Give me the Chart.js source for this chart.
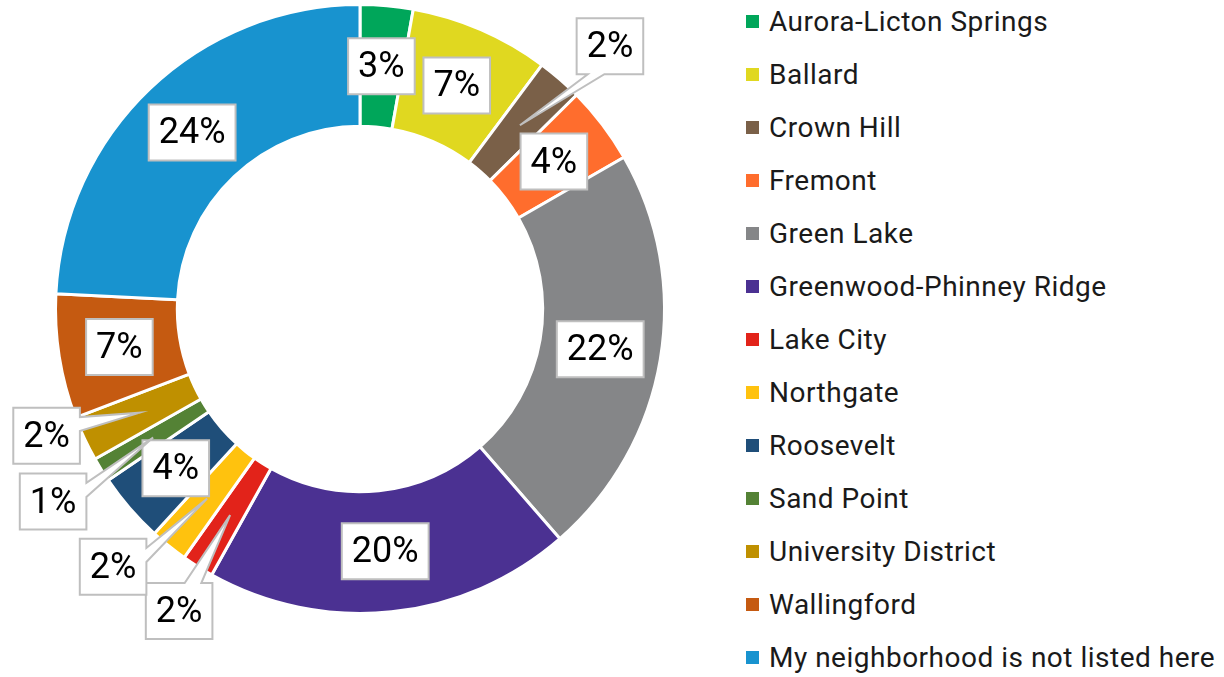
<!DOCTYPE html>
<html>
<head>
<meta charset="utf-8">
<script src="https://cdn.jsdelivr.net/npm/chart.js@4.4.0/dist/chart.umd.min.js"></script>
<style>
  html, body { margin: 0; padding: 0; background: #fff; }
  body { width: 1224px; height: 677px; position: relative; overflow: hidden; font-family: Roboto, sans-serif; }
  #wrap { position: absolute; left: 0; top: 0; width: 730px; height: 677px; }
  #legend { position: absolute; left: 746px; top: -5px; list-style: none; margin: 0; padding: 0; }
  #legend li { height: 53px; display: flex; align-items: center; font-size: 28px; letter-spacing: 0.5px; color: #1a1a1a; white-space: nowrap; }
  #legend .box { width: 13px; height: 13px; margin-right: 10px; flex: none; }
</style>
</head>
<body>
<div id="wrap"><canvas id="myChart" width="730" height="677"></canvas></div>
<ul id="legend"></ul>
<script>
// neighborhoods and share of responses (%)
const neighborhoods = [
  'Aurora-Licton Springs', 'Ballard', 'Crown Hill', 'Fremont', 'Green Lake',
  'Greenwood-Phinney Ridge', 'Lake City', 'Northgate', 'Roosevelt', 'Sand Point',
  'University District', 'Wallingford', 'My neighborhood is not listed here'
];
const shares = [2.8, 7.4, 2.4, 4.1, 21.9, 19.5, 1.7, 2.0, 3.7, 1.3, 2.4, 6.6, 24.2];
const colors = [
  '#00A65A', '#E0D820', '#7A6048', '#FF6D2D', '#858688', '#4B3192', '#E2231A',
  '#FFC20E', '#1F4E79', '#548235', '#BF9000', '#C55A11', '#1893CF'
];

// callout boxes moved away from small slices (px from slice centre)
const calloutShift = {
  2: { dx: 90, dy: -79 },
  6: { dx: -51, dy: 96 },
  7: { dx: -94, dy: 68 },
  9: { dx: -100, dy: 64 },
  10: { dx: -93, dy: 23 }
};

function calloutPath(ctx, l, t, w, h, tip) {
  const r = l + w, b = t + h, cx = l + w / 2, cy = t + h / 2;
  ctx.beginPath();
  ctx.moveTo(l, t);
  let dx = 0, dy = 0, vertical = false;
  if (tip) {
    dx = (tip.x - cx) / w;
    dy = (tip.y - cy) / h;
    vertical = Math.abs(dy) > Math.abs(dx);
  }
  if (tip && vertical && dy < 0) {
    const a = dx < 0 ? l + w / 6 : l + 7 * w / 12;
    ctx.lineTo(a, t); ctx.lineTo(tip.x, tip.y); ctx.lineTo(a + w / 4, t);
  }
  ctx.lineTo(r, t);
  if (tip && !vertical && dx > 0) {
    const a = dy < 0 ? t + h / 6 : t + 7 * h / 12;
    ctx.lineTo(r, a); ctx.lineTo(tip.x, tip.y); ctx.lineTo(r, a + h / 4);
  }
  ctx.lineTo(r, b);
  if (tip && vertical && dy > 0) {
    const a = dx < 0 ? l + 5 * w / 12 : l + 5 * w / 6;
    ctx.lineTo(a, b); ctx.lineTo(tip.x, tip.y); ctx.lineTo(a - w / 4, b);
  }
  ctx.lineTo(l, b);
  if (tip && !vertical && dx < 0) {
    const a = dy < 0 ? t + 5 * h / 12 : t + 5 * h / 6;
    ctx.lineTo(l, a); ctx.lineTo(tip.x, tip.y); ctx.lineTo(l, a - h / 4);
  }
  ctx.closePath();
}

const percentLabels = {
  id: 'percentLabels',
  afterDatasetsDraw(chart) {
    const ctx = chart.ctx;
    const data = chart.data.datasets[0].data;
    const total = data.reduce((s, v) => s + v, 0);
    const meta = chart.getDatasetMeta(0);
    ctx.save();
    ctx.font = '36px Roboto';
    ctx.textAlign = 'center';
    ctx.textBaseline = 'middle';
    meta.data.forEach((arc, i) => {
      const text = Math.round(data[i] / total * 100) + '%';
      const p = arc.tooltipPosition();
      const shift = calloutShift[i];
      const cx = p.x + (shift ? shift.dx : 0);
      const cy = p.y + (shift ? shift.dy : 0);
      const w = ctx.measureText(text).width + 20;
      const h = 56;
      calloutPath(ctx, cx - w / 2, cy - h / 2, w, h, shift ? p : null);
      ctx.fillStyle = '#fff';
      ctx.fill();
      ctx.lineWidth = 2;
      ctx.strokeStyle = '#BFBFBF';
      ctx.stroke();
      ctx.fillStyle = '#000';
      ctx.fillText(text, cx, cy + 2);
    });
    ctx.restore();
  }
};

const chart = new Chart(document.getElementById('myChart'), {
  type: 'doughnut',
  data: {
    labels: neighborhoods,
    datasets: [{
      data: shares,
      backgroundColor: colors,
      borderColor: '#fff',
      borderWidth: 3
    }]
  },
  options: {
    responsive: false,
    animation: false,
    cutout: '60%',
    layout: { padding: { top: 3, bottom: 62, left: 54, right: 64 } },
    plugins: {
      legend: { display: false },
      tooltip: { enabled: false }
    }
  },
  plugins: [percentLabels]
});

// legend on the right, built from the chart's own labels
const legendEl = document.getElementById('legend');
chart.data.labels.forEach((label, i) => {
  const li = document.createElement('li');
  const box = document.createElement('span');
  box.className = 'box';
  box.style.background = chart.data.datasets[0].backgroundColor[i];
  li.appendChild(box);
  li.appendChild(document.createTextNode(label));
  legendEl.appendChild(li);
});
</script>
</body>
</html>
